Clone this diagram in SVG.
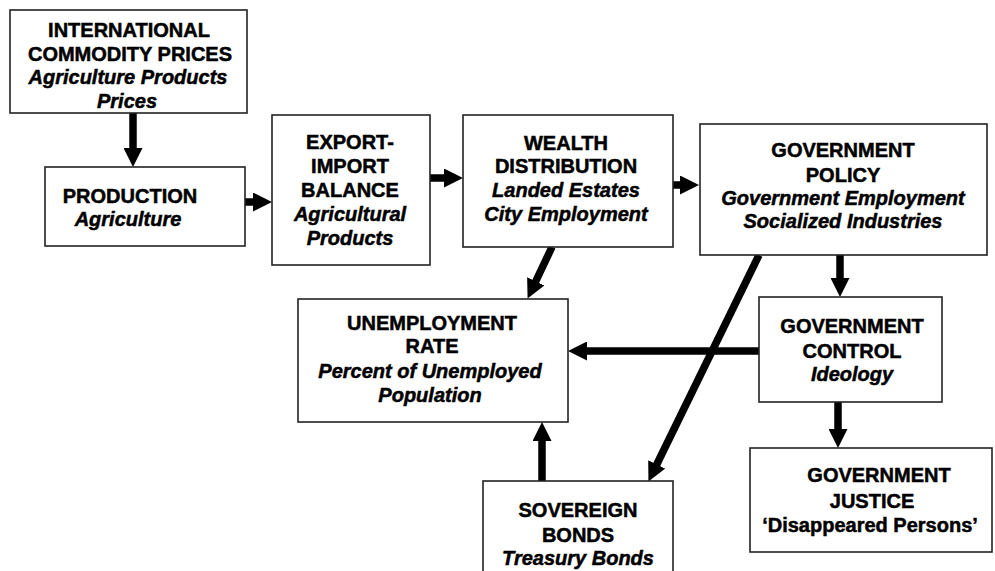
<svg xmlns="http://www.w3.org/2000/svg" width="995" height="571" viewBox="0 0 995 571">
<style>
.box{fill:#fff;stroke:#222;stroke-width:1.6}
.t{font-family:"Liberation Sans",Arial,sans-serif;font-size:20px;font-weight:bold;text-anchor:middle;fill:#000;stroke:#000;stroke-width:0.5}
.i{font-style:italic}
.c{stroke:#000;stroke-width:7.5;fill:none;marker-end:url(#ah)}
</style>
<defs>
<marker id="ah" markerUnits="userSpaceOnUse" markerWidth="19" markerHeight="19" refX="4" refY="9.5" orient="auto" viewBox="0 0 19 19">
<path d="M0,0 L19,9.5 L0,19 Z" fill="#000"/>
</marker>
</defs>
<rect width="995" height="571" fill="#fff"/>
<g id="connectors">
<line class="c" x1="133" y1="113" x2="133" y2="152"/>
<line class="c" x1="245" y1="202" x2="257" y2="202"/>
<line class="c" x1="430" y1="178" x2="448" y2="178"/>
<line class="c" x1="673" y1="185" x2="684" y2="185"/>
<line class="c" x1="552" y1="247" x2="534" y2="285"/>
<line class="c" x1="759" y1="255" x2="655" y2="468"/>
<line class="c" x1="840" y1="255" x2="840" y2="282"/>
<line class="c" x1="759" y1="351" x2="583" y2="351"/>
<line class="c" x1="838" y1="402" x2="838" y2="433"/>
<line class="c" x1="542" y1="481" x2="542" y2="437"/>
</g>
<g id="intl">
<rect class="box" x="10" y="10" width="237" height="103"/>
<text class="t" x="129" y="37">INTERNATIONAL</text>
<text class="t" x="130" y="61">COMMODITY PRICES</text>
<text class="t i" x="128" y="84">Agriculture Products</text>
<text class="t i" x="127" y="108">Prices</text>
</g>
<g id="production">
<rect class="box" x="45" y="167" width="200" height="79"/>
<text class="t" x="130" y="203">PRODUCTION</text>
<text class="t i" x="128" y="226">Agriculture</text>
</g>
<g id="export">
<rect class="box" x="272" y="115" width="158" height="150"/>
<text class="t" x="350" y="149">EXPORT-</text>
<text class="t" x="350" y="173">IMPORT</text>
<text class="t" x="350" y="197">BALANCE</text>
<text class="t i" x="350" y="221">Agricultural</text>
<text class="t i" x="350" y="245">Products</text>
</g>
<g id="wealth">
<rect class="box" x="463" y="115" width="210" height="132"/>
<text class="t" x="566" y="150">WEALTH</text>
<text class="t" x="566" y="173">DISTRIBUTION</text>
<text class="t i" x="566" y="197">Landed Estates</text>
<text class="t i" x="566" y="221">City Employment</text>
</g>
<g id="policy">
<rect class="box" x="700" y="124" width="287" height="131"/>
<text class="t" x="843" y="157">GOVERNMENT</text>
<text class="t" x="843" y="182">POLICY</text>
<text class="t i" x="843" y="205">Government Employment</text>
<text class="t i" x="843" y="228">Socialized Industries</text>
</g>
<g id="unemployment">
<rect class="box" x="298" y="299" width="270" height="123"/>
<text class="t" x="432" y="330">UNEMPLOYMENT</text>
<text class="t" x="432" y="353">RATE</text>
<text class="t i" x="430" y="378">Percent of Unemployed</text>
<text class="t i" x="430" y="402">Population</text>
</g>
<g id="control">
<rect class="box" x="759" y="297" width="183" height="105"/>
<text class="t" x="852" y="333">GOVERNMENT</text>
<text class="t" x="852" y="358">CONTROL</text>
<text class="t i" x="852" y="381">Ideology</text>
</g>
<g id="justice">
<rect class="box" x="750" y="448" width="242" height="104"/>
<text class="t" x="879" y="482">GOVERNMENT</text>
<text class="t" x="872" y="508">JUSTICE</text>
<text class="t" x="870" y="532">‘Disappeared Persons’</text>
</g>
<g id="sovereign">
<rect class="box" x="483" y="481" width="190" height="100"/>
<text class="t" x="578" y="517">SOVEREIGN</text>
<text class="t" x="578" y="542">BONDS</text>
<text class="t i" x="578" y="565">Treasury Bonds</text>
</g>
</svg>
